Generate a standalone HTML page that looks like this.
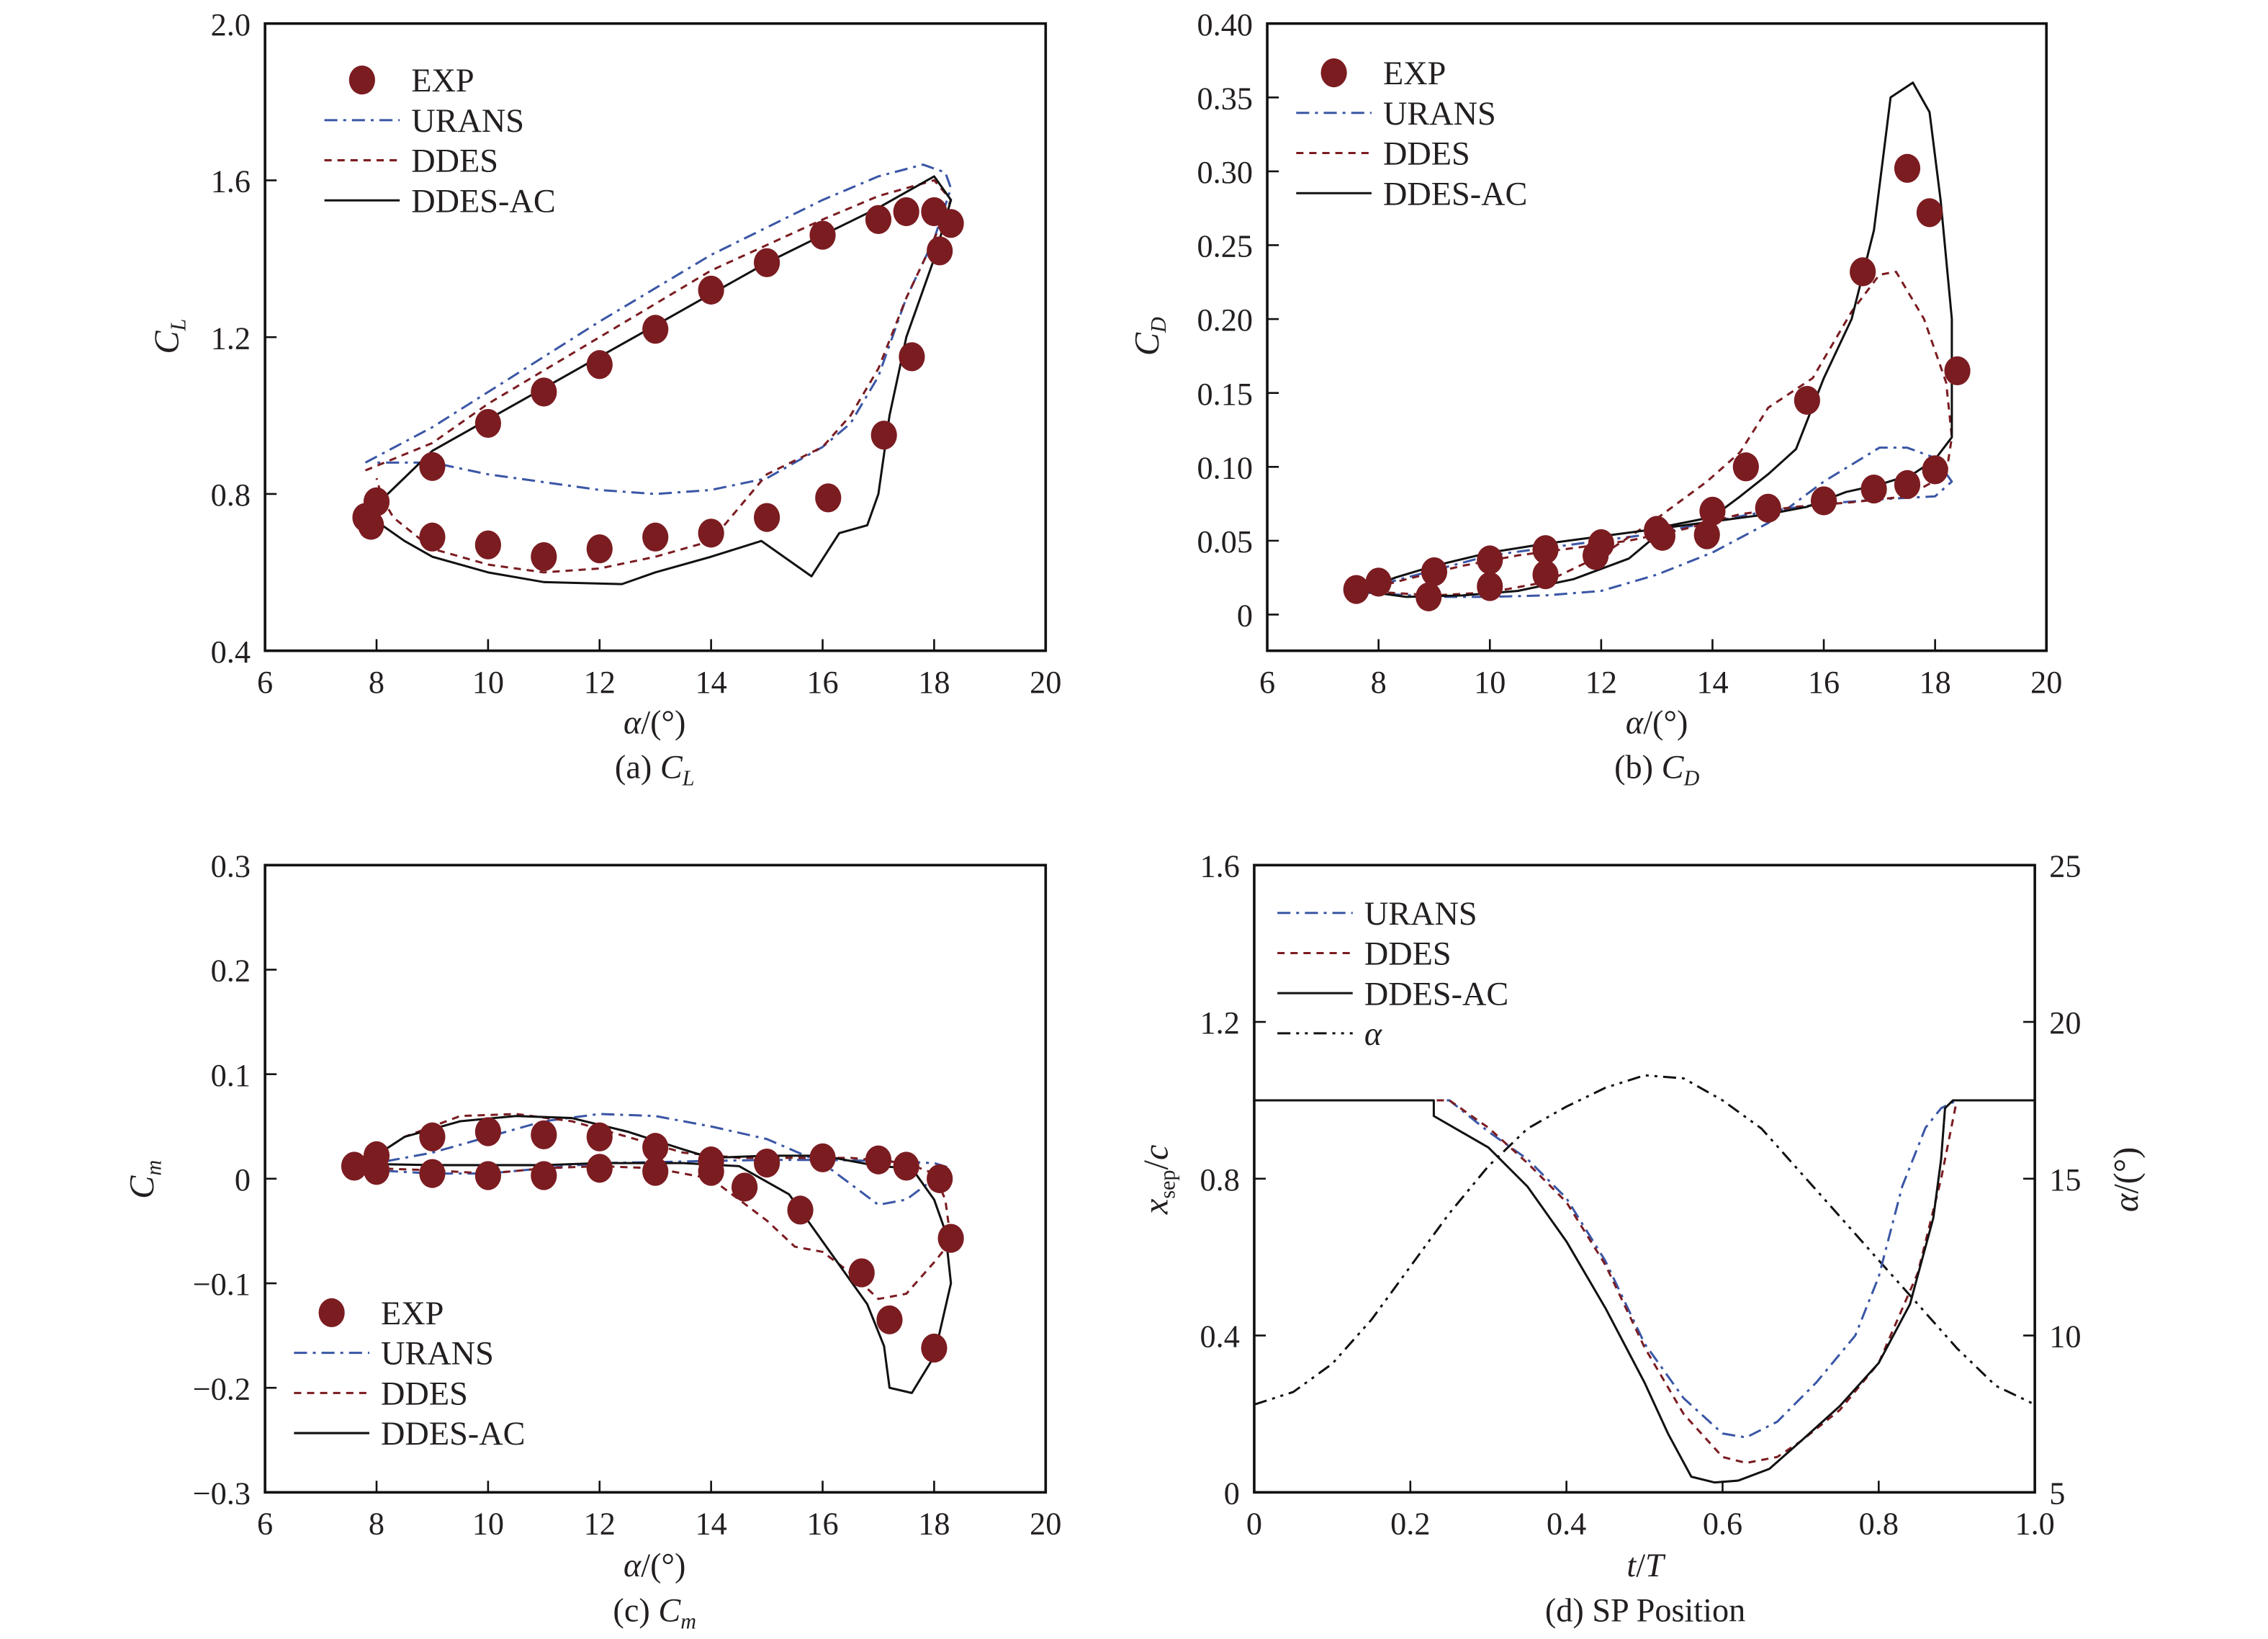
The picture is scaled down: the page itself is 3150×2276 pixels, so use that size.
<!DOCTYPE html>
<html><head><meta charset="utf-8"><style>
html,body{margin:0;padding:0;background:#fff}
svg{display:block}
text{font-family:"Liberation Serif",serif;fill:#231f20}
</style></head><body>
<svg id="fig" width="3150" height="2276" viewBox="0 0 1566 1131" xmlns="http://www.w3.org/2000/svg"></svg>
<script>
// ---- data ----
const expCL=[[7.8,0.74],[7.9,0.72],[8,0.78],[9,0.87],[10,0.98],[11,1.06],[12,1.13],[13,1.22],[14,1.32],[15,1.39],[16,1.46],[17,1.50],[17.5,1.52],[18,1.52],[18.3,1.49],[18.1,1.42],[17.6,1.15],[17.1,0.95],[16.1,0.79],[15,0.74],[14,0.70],[13,0.69],[12,0.66],[11,0.64],[10,0.67],[9,0.69]];
const acCL=[[7.8,0.74],[8.2,0.8],[9,0.91],[10,0.99],[11,1.07],[12,1.15],[13,1.23],[14,1.31],[15,1.39],[16,1.46],[17,1.53],[18,1.61],[18.3,1.55],[18,1.40],[17.5,1.2],[17.2,1.0],[17,0.80],[16.8,0.72],[16.3,0.70],[15.8,0.59],[14.9,0.68],[14,0.64],[13,0.60],[12.4,0.57],[11,0.575],[10,0.60],[9,0.64],[8.5,0.68],[8,0.73],[7.8,0.74]];
const ddesCL=[[7.8,0.86],[9,0.93],[10,1.03],[12,1.2],[14,1.37],[16,1.5],[17,1.56],[18,1.60],[18.3,1.55],[18,1.45],[17.5,1.30],[17,1.12],[16.5,1.0],[16,0.92],[15,0.85],[14,0.68],[13,0.64],[12,0.61],[11,0.60],[10,0.62],[9,0.66],[8.3,0.74],[8.1,0.79],[8,0.84]];
const uransCL=[[7.8,0.88],[9,0.97],[10,1.06],[12,1.24],[14,1.41],[16,1.55],[17,1.61],[17.8,1.64],[18.2,1.62],[18.3,1.58],[18,1.45],[17.5,1.30],[17,1.1],[16.5,0.98],[16,0.92],[15,0.84],[14,0.81],[13,0.80],[12,0.81],[11,0.83],[10,0.85],[9,0.88],[8,0.88]];

const expCD=[[7.6,0.017],[8,0.022],[9,0.029],[10,0.037],[11,0.044],[12,0.048],[13,0.057],[14,0.07],[14.6,0.1],[15.7,0.145],[16.7,0.232],[17.5,0.302],[17.9,0.272],[18.4,0.165],[18,0.098],[17.5,0.088],[16.9,0.085],[16,0.077],[15,0.072],[13.9,0.054],[13.1,0.053],[11.9,0.04],[11,0.027],[10,0.019],[8.9,0.012]];
const acCD=[[7.7,0.016],[8.5,0.012],[9.5,0.013],[10.5,0.016],[11.5,0.024],[12.5,0.038],[13.2,0.06],[14,0.066],[14.5,0.08],[15,0.095],[15.5,0.112],[16,0.16],[16.5,0.20],[16.9,0.26],[17.1,0.32],[17.2,0.35],[17.6,0.36],[17.9,0.34],[18.1,0.28],[18.3,0.2],[18.3,0.12],[18.0,0.105],[17.6,0.095],[17,0.088],[16.4,0.083],[15.7,0.073],[15,0.068],[14,0.063],[13,0.058],[12,0.053],[11,0.048],[10,0.042],[9,0.033],[8.3,0.025],[7.7,0.016]];
const ddesCD=[[7.7,0.016],[9,0.013],[10,0.015],[11,0.022],[12,0.04],[13,0.065],[13.9,0.09],[14.5,0.11],[15,0.14],[15.8,0.16],[16.5,0.205],[17,0.23],[17.3,0.232],[17.8,0.2],[18.2,0.157],[18.3,0.12],[18.2,0.095],[17.5,0.08],[16.5,0.076],[15.5,0.073],[14.5,0.068],[13.5,0.058],[12.5,0.05],[11.5,0.045],[10.5,0.04],[9.5,0.033],[8.5,0.024],[7.7,0.016]];
const uransCD=[[7.7,0.015],[9,0.012],[10,0.012],[11,0.013],[12,0.016],[13,0.027],[14,0.042],[15,0.062],[16,0.09],[17,0.113],[17.5,0.113],[18,0.106],[18.3,0.09],[18,0.08],[17,0.078],[16,0.075],[15,0.07],[14,0.063],[13,0.055],[12,0.05],[11,0.045],[10,0.04],[9,0.03],[8,0.02],[7.7,0.015]];

const expCM=[[7.6,0.012],[8,0.022],[9,0.04],[10,0.045],[11,0.042],[12,0.04],[13,0.03],[14,0.017],[15,0.015],[16,0.02],[17,0.018],[17.5,0.012],[18.1,0.0],[18.3,-0.057],[18,-0.162],[17.2,-0.135],[16.7,-0.09],[15.6,-0.03],[14.6,-0.008],[14,0.007],[13,0.007],[12,0.01],[11,0.003],[10,0.003],[9,0.005],[8,0.008]];
const acCM=[[7.7,0.012],[8.5,0.04],[9.5,0.055],[10.5,0.06],[11.5,0.058],[12.5,0.045],[13.5,0.028],[14,0.02],[15,0.022],[16,0.022],[17,0.012],[17.6,0.01],[18,-0.02],[18.2,-0.05],[18.3,-0.1],[18,-0.17],[17.6,-0.205],[17.2,-0.2],[17.1,-0.16],[16.8,-0.12],[16,-0.06],[15.4,-0.015],[14.5,0.012],[13.5,0.015],[12,0.015],[11,0.013],[10,0.013],[9,0.013],[8,0.014],[7.7,0.012]];
const ddesCM=[[7.7,0.012],[8.5,0.04],[9.5,0.06],[10.5,0.062],[11.5,0.055],[12.5,0.04],[13.5,0.025],[14.5,0.02],[15.5,0.02],[16.5,0.02],[17.5,0.015],[18,0.005],[18.2,-0.02],[18.3,-0.06],[18,-0.08],[17.5,-0.11],[17,-0.115],[16.5,-0.09],[16,-0.07],[15.5,-0.065],[15,-0.04],[14.5,-0.02],[14,0.0],[13,0.01],[12,0.012],[11,0.01],[10,0.005],[9,0.008],[8,0.01],[7.7,0.012]];
const uransCM=[[7.7,0.012],[9,0.025],[10,0.04],[11,0.055],[12,0.062],[13,0.06],[14,0.05],[15,0.038],[16,0.015],[16.5,-0.005],[17,-0.025],[17.5,-0.02],[18,0.0],[18.3,0.01],[18,0.015],[17,0.017],[16,0.018],[15,0.018],[14,0.017],[13,0.016],[12,0.015],[11,0.01],[10,0.005],[9,0.005],[8,0.008],[7.7,0.012]];

const acSP=[[0,1.0],[0.23,1.0],[0.23,0.96],[0.3,0.88],[0.35,0.78],[0.4,0.64],[0.45,0.47],[0.5,0.28],[0.53,0.15],[0.56,0.04],[0.59,0.025],[0.62,0.03],[0.66,0.06],[0.7,0.13],[0.75,0.22],[0.8,0.33],[0.84,0.48],[0.87,0.7],[0.88,0.85],[0.885,0.98],[0.895,1.0],[1,1.0]];
const ddesSP=[[0,1.0],[0.25,1.0],[0.3,0.93],[0.35,0.84],[0.4,0.74],[0.45,0.58],[0.5,0.37],[0.55,0.2],[0.6,0.09],[0.63,0.075],[0.67,0.09],[0.7,0.13],[0.75,0.21],[0.8,0.33],[0.85,0.56],[0.88,0.8],[0.9,1.0],[1,1.0]];
const uransSP=[[0,1.0],[0.25,1.0],[0.3,0.92],[0.35,0.85],[0.4,0.75],[0.45,0.59],[0.5,0.38],[0.55,0.24],[0.6,0.15],[0.63,0.14],[0.67,0.18],[0.72,0.28],[0.77,0.4],[0.8,0.55],[0.83,0.78],[0.86,0.93],[0.88,0.98],[0.9,1.0],[1,1.0]];
const alphaSP=[[0,7.8],[0.05,8.2],[0.1,9.1],[0.15,10.5],[0.2,12.2],[0.25,13.9],[0.3,15.4],[0.35,16.6],[0.4,17.3],[0.45,17.9],[0.5,18.3],[0.55,18.2],[0.6,17.5],[0.65,16.6],[0.7,15.2],[0.75,13.8],[0.8,12.4],[0.85,11.0],[0.9,9.6],[0.95,8.4],[1.0,7.8]];

const alphaTicks=[6,8,10,12,14,16,18,20];
const clTicks=["0.4","0.8","1.2","1.6","2.0"];
const cdTicks=["0","0.05","0.10","0.15","0.20","0.25","0.30","0.35","0.40"];
const cmTicks=["−0.3","−0.2","−0.1","0","0.1","0.2","0.3"];
const tTicks=["0","0.2","0.4","0.6","0.8","1.0"];
const xsTicks=["0","0.4","0.8","1.2","1.6"];
const aTicks=["5","10","15","20","25"];

// ---- drawing ----
const NS="http://www.w3.org/2000/svg";
const svg=document.getElementById('fig');
function mk(tag,attrs,parent){const e=document.createElementNS(NS,tag);for(const k in attrs)e.setAttribute(k,attrs[k]);(parent||svg).appendChild(e);return e;}
function txt(x,y,s,size,anchor,parent,style){const t=mk('text',{x:x,y:y,'font-size':size,'text-anchor':anchor||'middle'},parent);if(style)t.setAttribute('style',style);t.innerHTML=s;return t;}
const RED='#7b1c21',BLUE='#3a56a5',DRED='#7b1c21';
const styles={urans:{stroke:BLUE,dash:'9,4,2,4'},ddes:{stroke:DRED,dash:'5,4'},ac:{stroke:'#111',dash:''},alpha:{stroke:'#111',dash:'9,4,2,4,2,4'}};

function axis(name,x0,x1,y0,y1,xmin,xmax,ymin,ymax){
  const g=mk('g',{});
  
  
  return {g,sx:v=>x0+(v-xmin)/(xmax-xmin)*(x1-x0),sy:v=>y1-(v-ymin)/(ymax-ymin)*(y1-y0),x0,x1,y0,y1};
}
function frame(a){
  const r=mk('rect',{x:a.x0,y:a.y0,width:a.x1-a.x0,height:a.y1-a.y0,fill:'none',stroke:'#111','stroke-width':1.8},a.g);
  
  
}
function line(a,data,st,name){
  const p=mk('polyline',{points:data.map(d=>a.sx(d[0]).toFixed(1)+','+a.sy(d[1]).toFixed(1)).join(' '),fill:'none',stroke:st.stroke,'stroke-width':1.5,'stroke-dasharray':st.dash,'stroke-linejoin':'round'},a.g);
  
  
}
function pts(a,data,name){
  data.forEach(d=>{
    const c=mk('ellipse',{cx:a.sx(d[0]),cy:a.sy(d[1]),rx:9,ry:10,fill:RED},a.g);
    
    
  });
}
function xticks(a,vals,labels,y){
  vals.forEach((v,i)=>{
    const x=a.sx(v);
    mk('line',{x1:x,x2:x,y1:a.y1,y2:a.y1-8,stroke:'#111','stroke-width':1.3},a.g);
    const t=txt(x,a.y1+29,labels[i],22,'middle',a.g);
    
    
  });
}
function yticks(a,vals,labels,right){
  vals.forEach((v,i)=>{
    const y=a.sy(v);
    if(right){mk('line',{x1:a.x1,x2:a.x1-8,y1:y,y2:y,stroke:'#111','stroke-width':1.3},a.g);}
    else mk('line',{x1:a.x0,x2:a.x0+8,y1:y,y2:y,stroke:'#111','stroke-width':1.3},a.g);
    const t=right?txt(a.x1+10,y+8,labels[i],22,'start',a.g):txt(a.x0-10,y+8,labels[i],22,'end',a.g);
    
    
  });
}
function legend(a,x,y,items){
  const g=mk('g',{},a.g);
  
  
  items.forEach((it,i)=>{
    const yy=y+i*27.7;
    if(it[0]==='exp'){const e=mk('ellipse',{cx:x+26,cy:yy,rx:9,ry:10,fill:RED},g);}
    else{const st=styles[it[0]];const l=mk('line',{x1:x,x2:x+52,y1:yy,y2:yy,stroke:st.stroke,'stroke-width':1.5,'stroke-dasharray':st.dash},g);}
    const t=txt(x+60,yy+8,it[1],23,'start',g,it[2]||'');
    
    
  });
}
function label(a,x,y,html,size,rot,name){
  const t=txt(x,y,html,size||23,'middle',a.g);
  if(rot)t.setAttribute('transform','rotate(-90 '+x+' '+y+')');
  
  
}
const L4=[['exp','EXP'],['urans','URANS'],['ddes','DDES'],['ac','DDES-AC']];
const alphaLbls=alphaTicks.map(String);

// (a)
let A=axis('chart-cl',183,722,16,449,6,20,0.4,2.0);
line(A,uransCL,styles.urans,'urans-line');line(A,ddesCL,styles.ddes,'ddes-line');line(A,acCL,styles.ac,'ddes-ac-line');pts(A,expCL,'exp-point');
frame(A);xticks(A,alphaTicks,alphaLbls);yticks(A,clTicks.map(Number),clTicks);
legend(A,224,55,L4);
label(A,123,232,'<tspan font-style="italic">C</tspan><tspan font-style="italic" font-size="15" dy="5">L</tspan>',24,true,'y-axis-title');
label(A,452,506,'<tspan font-style="italic">α</tspan>/(°)',23,false,'x-axis-title');
label(A,452,537,'(a) <tspan font-style="italic">C</tspan><tspan font-style="italic" font-size="15" dy="5">L</tspan>',23,false,'panel-caption');

// (b)
let B=axis('chart-cd',875,1413,16,449,6,20,-0.02446,0.4);
line(B,uransCD,styles.urans,'urans-line');line(B,ddesCD,styles.ddes,'ddes-line');line(B,acCD,styles.ac,'ddes-ac-line');pts(B,expCD,'exp-point');
frame(B);xticks(B,alphaTicks,alphaLbls);yticks(B,cdTicks.map(Number),cdTicks);
legend(B,895,50,L4);
label(B,800,232,'<tspan font-style="italic">C</tspan><tspan font-style="italic" font-size="15" dy="5">D</tspan>',24,true,'y-axis-title');
label(B,1144,506,'<tspan font-style="italic">α</tspan>/(°)',23,false,'x-axis-title');
label(B,1144,537,'(b) <tspan font-style="italic">C</tspan><tspan font-style="italic" font-size="15" dy="5">D</tspan>',23,false,'panel-caption');

// (c)
let C=axis('chart-cm',183,722,597,1030,6,20,-0.3,0.3);
line(C,uransCM,styles.urans,'urans-line');line(C,ddesCM,styles.ddes,'ddes-line');line(C,acCM,styles.ac,'ddes-ac-line');pts(C,expCM,'exp-point');
frame(C);xticks(C,alphaTicks,alphaLbls);yticks(C,cmTicks.map(s=>Number(s.replace('−','-'))),cmTicks);
legend(C,203,906,L4);
label(C,106,814,'<tspan font-style="italic">C</tspan><tspan font-style="italic" font-size="15" dy="5">m</tspan>',24,true,'y-axis-title');
label(C,452,1088,'<tspan font-style="italic">α</tspan>/(°)',23,false,'x-axis-title');
label(C,452,1119,'(c) <tspan font-style="italic">C</tspan><tspan font-style="italic" font-size="15" dy="5">m</tspan>',23,false,'panel-caption');

// (d)
let D=axis('chart-sp',866,1405,597,1030,0,1,0,1.6);
let D2=axis('chart-sp-alpha',866,1405,597,1030,0,1,5,25);D.g.appendChild(D2.g);
line(D,uransSP,styles.urans,'urans-line');line(D,ddesSP,styles.ddes,'ddes-line');line(D,acSP,styles.ac,'ddes-ac-line');
line(D2,alphaSP,styles.alpha,'alpha-line');
frame(D);xticks(D,tTicks.map(Number),tTicks);yticks(D,xsTicks.map(Number),xsTicks);yticks(D2,aTicks.map(Number),aTicks,true);
legend(D,882,630,[['urans','URANS'],['ddes','DDES'],['ac','DDES-AC'],['alpha','α','font-style:italic']]);
label(D,806,814,'<tspan font-style="italic">x</tspan><tspan font-size="15" dy="5">sep</tspan><tspan dy="-5">/</tspan><tspan font-style="italic">c</tspan>',24,true,'y-axis-title');
label(D,1476,814,'<tspan font-style="italic">α</tspan>/(°)',24,true,'y2-axis-title');
label(D,1136,1088,'<tspan font-style="italic">t</tspan>/<tspan font-style="italic">T</tspan>',23,false,'x-axis-title');
label(D,1136,1119,'(d) SP Position',23,false,'panel-caption');
</script>
</body></html>
